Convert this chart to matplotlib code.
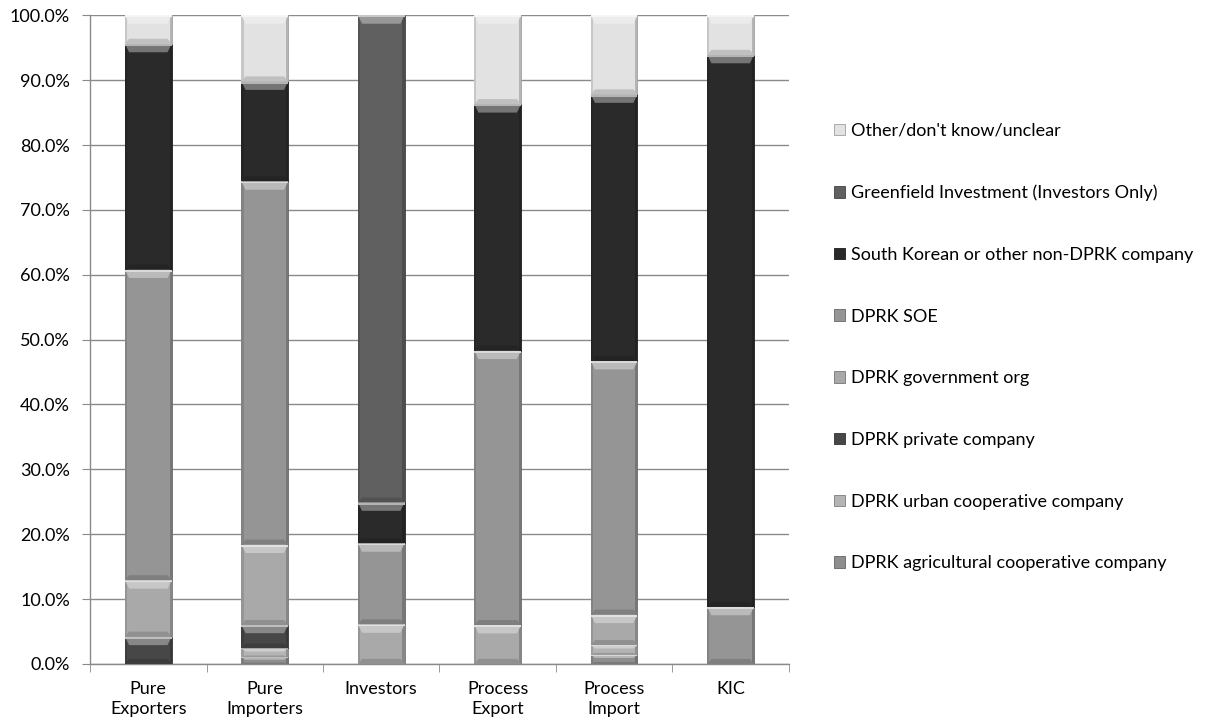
import numpy as np
import matplotlib.pyplot as plt
from matplotlib.patches import Polygon, Rectangle
from matplotlib.ticker import FuncFormatter, MultipleLocator

plt.rcParams['font.family'] = ['Lato', 'DejaVu Sans']

categories = ["Pure\nExporters", "Pure\nImporters", "Investors",
              "Process\nExport", "Process\nImport", "KIC"]

# share of firms (%) by partner type, bottom to top of each bar
agricultural_coop = [0.0, 1.0, 0.0, 0.0, 1.4, 0.0]
urban_coop = [0.0, 1.4, 0.0, 0.0, 1.5, 0.0]
private_company = [4.2, 3.6, 0.0, 0.0, 0.0, 0.0]
government_org = [8.7, 12.4, 6.1, 6.0, 4.7, 0.0]
soe = [47.9, 56.0, 12.5, 42.3, 39.1, 8.8]
non_dprk = [34.8, 15.4, 6.3, 38.0, 41.1, 85.1]
greenfield = [0.0, 0.0, 75.1, 0.0, 0.0, 0.0]
other = [4.4, 10.2, 0.0, 13.7, 12.2, 6.1]

series = [
    ("DPRK agricultural cooperative company", agricultural_coop, "#8e8e8e"),
    ("DPRK urban cooperative company", urban_coop, "#b4b4b4"),
    ("DPRK private company", private_company, "#474747"),
    ("DPRK government org", government_org, "#a9a9a9"),
    ("DPRK SOE", soe, "#959595"),
    ("South Korean or other non-DPRK company", non_dprk, "#2a2a2a"),
    ("Greenfield Investment (Investors Only)", greenfield, "#606060"),
    ("Other/don't know/unclear", other, "#e2e2e2"),
]


def shade(color, f):
    c = np.array(plt.matplotlib.colors.to_rgb(color))
    if f > 0:
        return tuple(c + (1 - c) * f)
    return tuple(c * (1 + f))


def bevel(ax, rect, color):
    """Soft bevelled top and darker sides on one bar segment."""
    x0, y0 = rect.get_x(), rect.get_y()
    w, h = rect.get_width(), rect.get_height()
    if h <= 0:
        return
    bh = min(1.3, h * 0.35)
    sw = 0.035
    # side shading
    ax.add_patch(Rectangle((x0, y0), sw * 0.5, h, color=shade(color, -0.12),
                           lw=0, zorder=3))
    ax.add_patch(Rectangle((x0 + w - sw * 0.5, y0), sw * 0.5, h,
                           color=shade(color, -0.2), lw=0, zorder=3))
    # top bevel
    top = y0 + h
    ax.add_patch(Polygon([(x0, top), (x0 + w, top), (x0 + w - sw, top - bh),
                          (x0 + sw, top - bh)], closed=True,
                         color=shade(color, 0.35), lw=0, zorder=3))
    ax.add_patch(Rectangle((x0, top - bh * 0.25), w, bh * 0.25,
                           color=shade(color, 0.65), lw=0, zorder=3))
    # bottom bevel
    ax.add_patch(Polygon([(x0, y0), (x0 + w, y0), (x0 + w - sw, y0 + bh * 0.6),
                          (x0 + sw, y0 + bh * 0.6)], closed=True,
                         color=shade(color, -0.15), lw=0, zorder=3))


fig = plt.figure(figsize=(12.09, 7.28), dpi=100)
ax = fig.add_axes([0.0745, 0.088, 0.578, 0.891])

x = np.arange(len(categories))
bottom = np.zeros(len(categories))
handles = []
for name, vals, color in series:
    vals = np.array(vals)
    bars = ax.bar(x, vals, width=0.4, bottom=bottom, color=color,
                  edgecolor=shade(color, -0.3), linewidth=0.6, zorder=2,
                  label=name)
    for rect in bars:
        bevel(ax, rect, color)
    handles.append(bars)
    bottom += vals

ax.set_ylim(0, 100)
ax.set_xlim(-0.5, len(categories) - 0.5)
ax.yaxis.set_major_locator(MultipleLocator(10))
ax.yaxis.set_major_formatter(FuncFormatter(lambda v, p: f"{v:.1f}%"))
ax.yaxis.grid(True, color="#8a8a8a", linewidth=1.0, zorder=0)
ax.set_axisbelow(True)

ax.set_xticks(x)
ax.set_xticklabels(categories, fontsize=13, linespacing=1.3)
ax.set_xticks(np.arange(-0.5, len(categories)), minor=True)
ax.tick_params(axis="x", which="major", length=0, pad=12)
ax.tick_params(axis="x", which="minor", length=5.5, color="#8a8a8a",
               direction="out")
ax.tick_params(axis="y", length=5.5, color="#8a8a8a", labelsize=13, pad=9)

for side in ["top", "right"]:
    ax.spines[side].set_visible(False)
for side in ["left", "bottom"]:
    ax.spines[side].set_color("#8a8a8a")
    ax.spines[side].set_linewidth(1.0)

leg = fig.legend(handles[::-1], [s[0] for s in series][::-1],
                 loc="upper left", bbox_to_anchor=(0.684, 0.841),
                 frameon=False, fontsize=13, labelspacing=2.53,
                 handlelength=0.6, handleheight=0.6, handletextpad=0.35,
                 borderaxespad=0)

fig.savefig("out.png", dpi=100)
